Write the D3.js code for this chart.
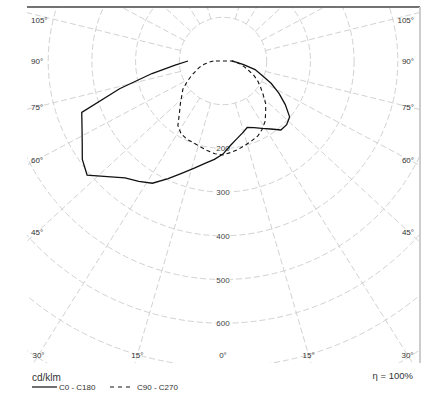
<!DOCTYPE html>
<html><head><meta charset="utf-8">
<script src="https://cdn.jsdelivr.net/npm/d3@7"></script>
<style>body{margin:0;background:#fff}svg{display:block}</style>
</head><body>
<script>
// gamma angles (deg from nadir)
const gamma = [0,5,10,15,20,25,30,35,40,45,50,55,60,65,70,75,80,85,90];
// C0 - C180 plane (solid): right half C0, left half C180 (cd/klm)
const c0   = [213,194,181,171,162,168,178,190,206,206,199,174,148,122,94,76,48,30,20];
const c180 = [213,226,238,254,273,297,323,336,349,374,406,393,372,356,344,245,165,110,80];
// C90 - C270 plane (dashed): right half C90, left half C270
const c90  = [213,210,205,199,194,189,180,168,152,138,120,105,92,78,62,50,40,30,22];
const c270 = [215,213,208,203,199,197,192,180,155,138,123,112,95,80,66,56,44,32,22];
// grid
const ringValues = [100,200,300,400,500,600,700,800];
const ringLabels = [200,300,400,500,600];
const spokeAngles = [15,30,45,60,75,105,120,135,150,165];
const angleLabels = [0,15,30,45,60,75,90,105];
const unitLabel = "cd/klm";
const legendItems = ["C0 - C180","C90 - C270"];
const etaLabel = "η = 100%";

const W = 443, H = 394;
const box = {x0:27, y0:7, x1:420, y1:363};
const cx = 223, cy = 61;
const k = 0.92;
const r = d3.scaleLinear().domain([0,100]).range([0,43.7]);

const svg = d3.select("body").append("svg").attr("width",W).attr("height",H)
  .style("font-family","'Liberation Sans', Arial, sans-serif");

svg.append("defs").append("clipPath").attr("id","clip")
  .append("rect").attr("x",box.x0).attr("y",box.y0)
  .attr("width",box.x1-box.x0).attr("height",box.y1-box.y0);

const grid = svg.append("g").attr("clip-path","url(#clip)");
const gridColor = "#d2d2d2";

// rings
grid.selectAll("circle.ring").data(ringValues).enter().append("circle")
  .attr("cx",cx).attr("cy",cy).attr("r",d=>r(d))
  .attr("fill","none").attr("stroke",gridColor).attr("stroke-width",1)
  .attr("stroke-dasharray","6,3");

// spokes
const spokes = [];
spokeAngles.forEach(a=>{[-1,1].forEach(s=>{
  const rad = a*Math.PI/180;
  let dx = s*Math.sin(rad), dy = k*Math.cos(rad);
  const n = Math.hypot(dx,dy); dx/=n; dy/=n;
  spokes.push([[cx+dx*r(100),cy+dy*r(100)],[cx+dx*700,cy+dy*700]]);
});});
grid.selectAll("path.spoke").data(spokes).enter().append("path")
  .attr("d",d3.line()).attr("fill","none").attr("stroke",gridColor)
  .attr("stroke-width",1).attr("stroke-dasharray","6,3");

// ring labels
svg.selectAll("text.ring").data(ringLabels).enter().append("text")
  .attr("x",cx).attr("y",d=>cy+r(d)+3).attr("text-anchor","middle")
  .attr("font-size",8).attr("fill","#444")
  .attr("stroke","#fff").attr("stroke-width",2).attr("paint-order","stroke")
  .text(d=>d);

// frame
svg.append("line").attr("x1",box.x0).attr("x2",box.x1).attr("y1",box.y0).attr("y2",box.y0)
  .attr("stroke","#444").attr("stroke-width",1.5);
svg.append("line").attr("x1",box.x1).attr("x2",box.x1).attr("y1",box.y0).attr("y2",box.y1)
  .attr("stroke","#cccccc").attr("stroke-width",2);

// angle labels
const lab = [];
angleLabels.forEach(a=>{
  (a===0?[1]:[-1,1]).forEach(s=>{
    const rad=a*Math.PI/180;
    const dx=s*Math.sin(rad), dy=k*Math.cos(rad);
    const tSide = Math.abs(dx)>1e-9 ? 186/Math.abs(dx) : Infinity;
    const tBot = dy>1e-9 ? 294/dy : Infinity;
    if (tBot < tSide) {
      lab.push({t:a+"°", x:cx+dx*tBot, y:358, anchor:"middle"});
    } else {
      let y = cy+dy*tSide + 3;
      y = Math.max(y, 23);
      lab.push({t:a+"°", x: s<0?31:414, y:y, anchor: s<0?"start":"end"});
    }
  });
});
svg.selectAll("text.ang").data(lab).enter().append("text")
  .attr("x",d=>d.x).attr("y",d=>d.y).attr("text-anchor",d=>d.anchor)
  .attr("font-size",8).attr("fill","#333").text(d=>d.t);

// curves
function pts(right,left){
  const out=[];
  for(let i=left.length-1;i>=0;i--) out.push({a:Math.PI+gamma[i]*Math.PI/180, v:left[i]});
  for(let i=1;i<right.length;i++) out.push({a:Math.PI-gamma[i]*Math.PI/180, v:right[i]});
  return out;
}
const radial = d3.lineRadial().angle(d=>d.a).radius(d=>r(d.v)).curve(d3.curveLinear);
const cg = svg.append("g").attr("transform",`translate(${cx},${cy})`);
cg.append("path").attr("d",radial(pts(c90,c270))+"Z").attr("fill","none")
  .attr("stroke","#111").attr("stroke-width",1.1).attr("stroke-dasharray","4,3");
cg.append("path").attr("d",radial(pts(c0,c180))).attr("fill","none")
  .attr("stroke","#111").attr("stroke-width",1.3);

// unit & legend
svg.append("text").attr("x",32).attr("y",381).attr("font-size",10).attr("fill","#333").text(unitLabel);
svg.append("line").attr("x1",32).attr("x2",57).attr("y1",387).attr("y2",387).attr("stroke","#111").attr("stroke-width",1.2);
svg.append("text").attr("x",59).attr("y",390).attr("font-size",8).attr("fill","#333").text(legendItems[0]);
svg.append("line").attr("x1",110).attr("x2",134).attr("y1",387).attr("y2",387).attr("stroke","#111").attr("stroke-width",1.2).attr("stroke-dasharray","4,4");
svg.append("text").attr("x",137).attr("y",390).attr("font-size",8).attr("fill","#333").text(legendItems[1]);
svg.append("text").attr("x",413).attr("y",379).attr("text-anchor","end").attr("font-size",9.5).attr("fill","#333").text(etaLabel);
</script>
</body></html>
